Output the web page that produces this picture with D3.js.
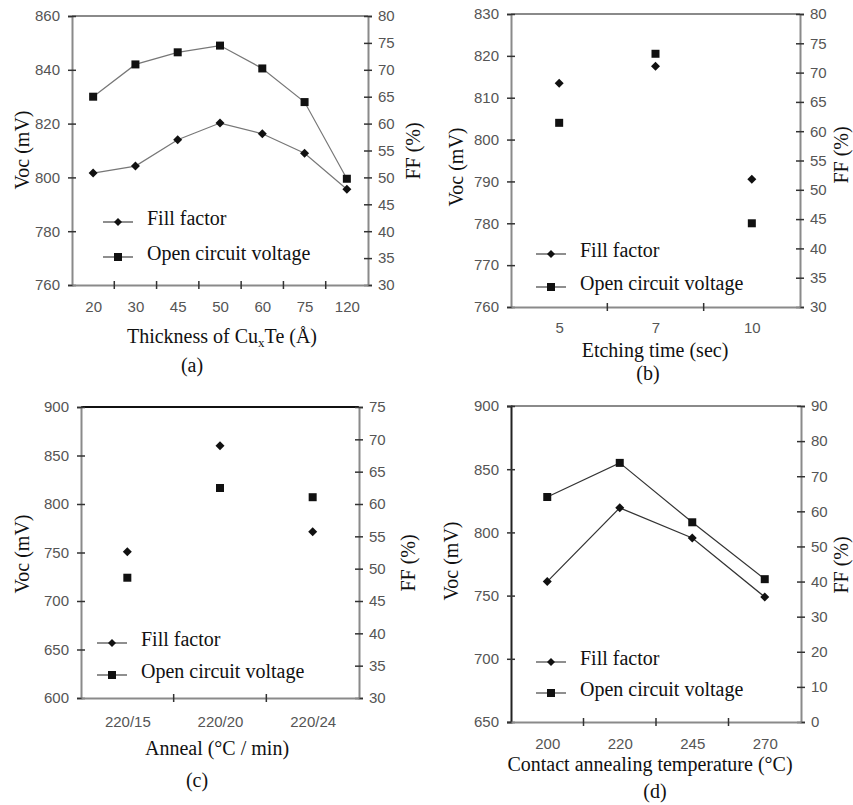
<!DOCTYPE html>
<html>
<head>
<meta charset="utf-8">
<script src="https://cdn.jsdelivr.net/npm/d3@7"></script>
<style>
  body { margin: 0; background: #fff; }
  svg { display: block; }
  .tick-lbl { font-family: "Liberation Sans", Arial, sans-serif; font-size: 15px; fill: #555; }
  .serif { font-family: "Liberation Serif", "Times New Roman", serif; font-size: 20px; fill: #111; }
</style>
</head>
<body>
<svg id="chart" width="853" height="805"></svg>
<script>
// panel (a) thickness of CuxTe
const catsA = ["20", "30", "45", "50", "60", "75", "120"];
const vocA = [830, 842, 846.5, 849, 840.5, 828, 799.5];
const ffA = [50.8, 52.1, 57, 60.1, 58.1, 54.5, 47.8];
const vocTicksA = [760, 780, 800, 820, 840, 860];
const ffTicksA = [30, 35, 40, 45, 50, 55, 60, 65, 70, 75, 80];

// panel (b) etching time
const catsB = ["5", "7", "10"];
const vocB = [804, 820.5, 780];
const ffB = [68.2, 71.1, 51.8];
const vocTicksB = [760, 770, 780, 790, 800, 810, 820, 830];
const ffTicksB = [30, 35, 40, 45, 50, 55, 60, 65, 70, 75, 80];

// panel (c) anneal
const catsC = ["220/15", "220/20", "220/24"];
const vocC = [724, 816.5, 807];
const ffC = [52.6, 69, 55.7];
const vocTicksC = [600, 650, 700, 750, 800, 850, 900];
const ffTicksC = [30, 35, 40, 45, 50, 55, 60, 65, 70, 75];

// panel (d) contact annealing temperature
const catsD = ["200", "220", "245", "270"];
const vocD = [828, 855, 808, 763];
const ffD = [40, 61, 52.4, 35.6];
const vocTicksD = [650, 700, 750, 800, 850, 900];
const ffTicksD = [0, 10, 20, 30, 40, 50, 60, 70, 80, 90];

const LEGEND = ["Fill factor", "Open circuit voltage"];

const panels = [
  { cats: catsA, voc: vocA, ff: ffA, vocTicks: vocTicksA, ffTicks: ffTicksA,
    box: [72, 368, 16, 285], legend: [103, 222, 257], vocLbl: [22, 150], ffLbl: [413, 151],
    tickY: 312, title: [222, 343], tag: [192, 372], tagText: "(a)", connect: true,
    topColor: "#8a8a8a", leftColor: "#8a8a8a", lineColor: "#777" },
  { cats: catsB, voc: vocB, ff: ffB, vocTicks: vocTicksB, ffTicks: ffTicksB,
    box: [511, 800, 14, 307], legend: [536, 254, 287], vocLbl: [456, 167], ffLbl: [841, 155],
    tickY: 333, title: [655, 357], tag: [648, 380], tagText: "(b)", connect: false,
    topColor: "#8a8a8a", leftColor: "#8a8a8a", lineColor: "#777" },
  { cats: catsC, voc: vocC, ff: ffC, vocTicks: vocTicksC, ffTicks: ffTicksC,
    box: [81, 359, 407, 698], legend: [97, 643, 675], vocLbl: [22, 554], ffLbl: [408, 563],
    tickY: 727, title: [217, 755], tag: [197, 787], tagText: "(c)", connect: false,
    topColor: "#111", leftColor: "#8a8a8a", lineColor: "#777" },
  { cats: catsD, voc: vocD, ff: ffD, vocTicks: vocTicksD, ffTicks: ffTicksD,
    box: [511, 801, 406, 722], legend: [536, 662, 693], vocLbl: [451, 561], ffLbl: [841, 565],
    tickY: 749, title: [650, 771], tag: [655, 798], tagText: "(d)", connect: true,
    topColor: "#8a8a8a", leftColor: "#222", lineColor: "#333" },
];

const svg = d3.select("#chart");

function diamond(g, x, y, r) {
  g.append("path")
    .attr("d", `M${x},${y - r}L${x + r},${y}L${x},${y + r}L${x - r},${y}Z`)
    .attr("fill", "#111");
}
function square(g, x, y, s) {
  g.append("rect").attr("x", x - s / 2).attr("y", y - s / 2)
    .attr("width", s).attr("height", s).attr("fill", "#111");
}

function drawPanel(p, idx) {
  const [x0, x1, y0, y1] = p.box;
  const g = svg.append("g").attr("class", "panel-" + idx);

  const band = d3.scaleBand().domain(p.cats).range([x0, x1]);
  const xPos = d3.scalePoint().domain(p.cats).range([x0, x1]).padding(0.5);
  const yV = d3.scaleLinear().domain(d3.extent(p.vocTicks)).range([y1, y0]);
  const yF = d3.scaleLinear().domain(d3.extent(p.ffTicks)).range([y1, y0]);

  // frame
  g.append("line").attr("x1", x0).attr("x2", x1).attr("y1", y0).attr("y2", y0)
    .attr("stroke", p.topColor).attr("stroke-width", 2);

  // left axis (Voc)
  const left = g.append("g").attr("transform", `translate(${x0},0)`)
    .call(d3.axisLeft(yV).tickValues(p.vocTicks).tickSize(4).tickPadding(8));
  left.select(".domain").attr("stroke", p.leftColor).attr("stroke-width", 2);
  left.selectAll(".tick line").attr("x2", -4).attr("x1", 4).attr("stroke", "#333").attr("stroke-width", 1.5);
  left.selectAll(".tick text").attr("class", "tick-lbl");
  left.attr("font-size", null).attr("font-family", null);

  // right axis (FF)
  const right = g.append("g").attr("transform", `translate(${x1},0)`)
    .call(d3.axisRight(yF).tickValues(p.ffTicks).tickSize(4).tickPadding(6));
  right.select(".domain").attr("stroke", "#8a8a8a").attr("stroke-width", 2);
  right.selectAll(".tick line").attr("x1", -4).attr("x2", 4).attr("stroke", "#333").attr("stroke-width", 1.5);
  right.selectAll(".tick text").attr("class", "tick-lbl");
  right.attr("font-size", null).attr("font-family", null);

  // bottom axis
  const bottom = g.append("g").attr("transform", `translate(0,${y1})`)
    .call(d3.axisBottom(xPos).tickSize(0).tickPadding(p.tickY - y1 - 11));
  bottom.select(".domain").attr("stroke", "#8a8a8a").attr("stroke-width", 2);
  bottom.selectAll(".tick text").attr("class", "tick-lbl");
  bottom.attr("font-size", null).attr("font-family", null);
  g.selectAll(".xbound").data(p.cats.slice(1)).join("line")
    .attr("x1", d => band(d)).attr("x2", d => band(d))
    .attr("y1", y1 - 4).attr("y2", y1 + 4)
    .attr("stroke", "#333").attr("stroke-width", 1.5);

  // series lines
  if (p.connect) {
    const lineV = d3.line().x((d, i) => xPos(p.cats[i])).y(d => yV(d));
    const lineF = d3.line().x((d, i) => xPos(p.cats[i])).y(d => yF(d));
    g.append("path").attr("d", lineV(p.voc)).attr("fill", "none").attr("stroke", p.lineColor).attr("stroke-width", 1.2);
    g.append("path").attr("d", lineF(p.ff)).attr("fill", "none").attr("stroke", p.lineColor).attr("stroke-width", 1.2);
  }
  p.voc.forEach((v, i) => square(g, xPos(p.cats[i]), yV(v), 8));
  p.ff.forEach((v, i) => diamond(g, xPos(p.cats[i]), yF(v), 4.5));

  // legend
  const [lx, ly1, ly2] = p.legend;
  [ly1, ly2].forEach((ly, k) => {
    g.append("line").attr("x1", lx).attr("x2", lx + 30).attr("y1", ly).attr("y2", ly)
      .attr("stroke", "#444").attr("stroke-width", 1.2);
    if (k === 0) diamond(g, lx + 15, ly, 4);
    else square(g, lx + 15, ly, 8);
    g.append("text").attr("class", "serif").attr("x", lx + 44).attr("y", ly + 3)
      .text(LEGEND[k]);
  });

  // axis titles
  g.append("text").attr("class", "serif")
    .attr("transform", `translate(${p.vocLbl[0]},${p.vocLbl[1]}) rotate(-90)`)
    .attr("text-anchor", "middle").attr("dominant-baseline", "central").text("Voc (mV)");
  g.append("text").attr("class", "serif")
    .attr("transform", `translate(${p.ffLbl[0]},${p.ffLbl[1]}) rotate(-90)`)
    .attr("text-anchor", "middle").attr("dominant-baseline", "central").text("FF (%)");

  g.append("text").attr("class", "serif").attr("x", p.tag[0]).attr("y", p.tag[1])
    .attr("text-anchor", "middle").text(p.tagText);
  return g;
}

const gs = panels.map(drawPanel);

// x-axis titles
const tA = gs[0].append("text").attr("class", "serif").attr("x", panels[0].title[0]).attr("y", panels[0].title[1])
  .attr("text-anchor", "middle");
tA.append("tspan").text("Thickness of Cu");
tA.append("tspan").attr("font-size", "13px").attr("dy", 4).text("x");
tA.append("tspan").attr("dy", -4).text("Te (Å)");

gs[1].append("text").attr("class", "serif").attr("x", panels[1].title[0]).attr("y", panels[1].title[1])
  .attr("text-anchor", "middle").text("Etching time (sec)");
gs[2].append("text").attr("class", "serif").attr("x", panels[2].title[0]).attr("y", panels[2].title[1])
  .attr("text-anchor", "middle").text("Anneal (°C / min)");
gs[3].append("text").attr("class", "serif").attr("x", panels[3].title[0]).attr("y", panels[3].title[1])
  .attr("text-anchor", "middle").attr("font-size", "19px").text("Contact annealing temperature (°C)");
</script>
</body>
</html>
